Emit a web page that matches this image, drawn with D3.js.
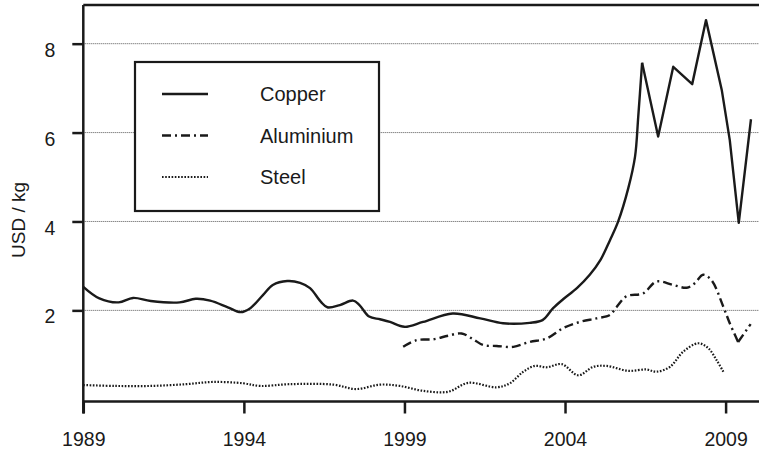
<!DOCTYPE html>
<html>
<head>
<meta charset="utf-8">
<script src="https://cdn.jsdelivr.net/npm/d3@7"></script>
<style>
  body { margin: 0; background: #fff; }
  svg { display: block; font-family: "Liberation Sans", Arial, sans-serif; }
</style>
</head>
<body>
<div id="plot"></div>
<script>
    // metal prices, USD / kg
    const seriesNames = ["Copper", "Aluminium", "Steel"];

    const copperYears = [1989.0, 1989.5, 1990.1, 1990.55, 1991.1, 1992.0, 1992.5, 1992.95, 1993.5, 1993.9,
      1994.2, 1994.6, 1994.9, 1995.35, 1995.75, 1996.06, 1996.4, 1996.6, 1996.99, 1997.4,
      1997.6, 1997.9, 1998.24, 1998.55, 1999.0, 1999.58, 2000.5, 2001.36, 2002.07, 2002.9,
      2003.3, 2003.63, 2003.94, 2004.37, 2004.77, 2005.1, 2005.4, 2005.65, 2005.97, 2006.18,
      2006.28, 2006.40, 2006.9, 2007.37, 2007.96, 2008.39, 2008.88, 2009.13, 2009.41, 2009.79];
    const copperValues = [2.53, 2.27, 2.18, 2.28, 2.21, 2.18, 2.26, 2.22, 2.07, 1.96,
      2.05, 2.35, 2.57, 2.66, 2.62, 2.50, 2.19, 2.07, 2.12, 2.22,
      2.12, 1.86, 1.80, 1.74, 1.63, 1.74, 1.93, 1.82, 1.71, 1.72,
      1.78, 2.05, 2.25, 2.50, 2.80, 3.13, 3.58, 3.99, 4.75, 5.46,
      6.36, 7.57, 5.91, 7.48, 7.09, 8.53, 6.96, 5.83, 3.97, 6.30];

    const aluminiumYears = [1998.96, 1999.38, 1999.9, 2000.36, 2000.78, 2001.14, 2001.45, 2001.87, 2002.39, 2002.9,
      2003.43, 2003.94, 2004.46, 2004.98, 2005.4, 2005.6, 2005.92, 2006.43, 2006.85, 2007.37,
      2007.79, 2008.04, 2008.3, 2008.56, 2008.93, 2009.13, 2009.39, 2009.78];
    const aluminiumValues = [1.18, 1.33, 1.35, 1.43, 1.48, 1.35, 1.22, 1.20, 1.18, 1.29,
      1.37, 1.60, 1.74, 1.82, 1.90, 2.07, 2.32, 2.38, 2.65, 2.57,
      2.51, 2.61, 2.80, 2.68, 2.08, 1.71, 1.29, 1.69];

    const steelYears = [1989.0, 1990.0, 1991.1, 1992.2, 1993.05, 1993.98, 1994.5, 1995.43, 1996.78, 1997.5,
      1998.24, 1998.86, 1999.58, 2000.36, 2000.99, 2001.87, 2002.28, 2002.7, 2003.06, 2003.43,
      2003.9, 2004.41, 2004.88, 2005.3, 2005.97, 2006.54, 2006.85, 2007.27, 2007.68, 2008.15,
      2008.46, 2008.72, 2008.93];
    const steelValues = [0.32, 0.30, 0.30, 0.34, 0.39, 0.36, 0.30, 0.34, 0.33, 0.23,
      0.33, 0.30, 0.19, 0.17, 0.37, 0.27, 0.36, 0.62, 0.75, 0.72,
      0.79, 0.54, 0.73, 0.75, 0.64, 0.67, 0.62, 0.73, 1.07, 1.26,
      1.15, 0.88, 0.62];

    // from this year on the series is drawn with straight segments
    const sharpFrom = [2006.40, 2009.39, Infinity];

    const xTicks = [1989, 1994, 1999, 2004, 2009];
    const yTicks = [2, 4, 6, 8];

    const width = 759, height = 453;
    const ink = "#1a1a1a";
    const dashes = ["none", "9,4,2,4", "1.6,1.6"];
    const widths = [2.4, 2.4, 2.2];

    const svg = d3.select("div#plot")
      .append("svg")
        .attr("width", width)
        .attr("height", height);

    const xScale = d3.scaleLinear()
      .domain([1989, 2010.04])
      .range([83.3, 759]);

    const yScale = d3.scaleLinear()
      .domain([-0.05, 8.87])
      .range([401.5, 5]);

    // grid
    svg.append("g")
      .selectAll("line")
      .data(yTicks)
      .enter()
      .append("line")
        .attr("x1", xScale(1989))
        .attr("x2", width)
        .attr("y1", d => yScale(d))
        .attr("y2", d => yScale(d))
        .attr("stroke", "#555")
        .attr("stroke-width", 1)
        .attr("stroke-dasharray", "1,1");

    // top border
    svg.append("line")
      .attr("x1", xScale(1989))
      .attr("x2", width)
      .attr("y1", yScale(8.87))
      .attr("y2", yScale(8.87))
      .attr("stroke", ink)
      .attr("stroke-width", 2.5);

    const xAxis = d3.axisBottom(xScale)
      .tickValues(xTicks)
      .tickFormat(d3.format("d"))
      .tickSize(12)
      .tickPadding(19);

    const gx = svg.append("g")
      .attr("transform", `translate(0, ${yScale(-0.05)})`)
      .call(xAxis);
    gx.select(".domain")
      .attr("d", `M${xScale(1989)},0H${width}`)
      .attr("stroke", ink)
      .attr("stroke-width", 2.5);
    gx.selectAll(".tick line").attr("stroke", ink).attr("stroke-width", 2.5);
    gx.selectAll("text")
      .attr("fill", ink)
      .style("font-size", "19.5px")
      .style("font-family", "Liberation Sans, Arial, sans-serif");

    const yAxis = d3.axisLeft(yScale)
      .tickValues(yTicks)
      .tickSize(11)
      .tickPadding(17);

    const gy = svg.append("g")
      .attr("transform", `translate(${xScale(1989)}, 0)`)
      .call(yAxis);
    gy.select(".domain")
      .attr("d", `M0,${yScale(8.87)}V${yScale(-0.05) + 12}`)
      .attr("stroke", ink)
      .attr("stroke-width", 2.5);
    gy.selectAll(".tick line").attr("stroke", ink).attr("stroke-width", 2.5);
    gy.selectAll("text")
      .attr("fill", ink)
      .attr("dy", "0.95em")
      .attr("y", -6)
      .style("font-size", "19.5px")
      .style("font-family", "Liberation Sans, Arial, sans-serif");

    svg.append("text")
      .attr("transform", "rotate(-90)")
      .attr("x", -220)
      .attr("y", 25)
      .attr("fill", ink)
      .style("text-anchor", "middle")
      .style("font-size", "19px")
      .text("USD / kg");

    // series
    const allYears = [copperYears, aluminiumYears, steelYears];
    const allValues = [copperValues, aluminiumValues, steelValues];

    const smoothLine = d3.line()
      .x(d => xScale(d[0]))
      .y(d => yScale(d[1]))
      .curve(d3.curveCatmullRom.alpha(0.5));

    const straightLine = d3.line()
      .x(d => xScale(d[0]))
      .y(d => yScale(d[1]));

    seriesNames.forEach((name, i) => {
      const pts = allYears[i].map((yr, j) => [yr, allValues[i][j]]);
      const smooth = pts.filter(d => d[0] <= sharpFrom[i]);
      const sharp = pts.filter(d => d[0] >= sharpFrom[i]);
      [[smooth, smoothLine], [sharp, straightLine]].forEach(([part, gen]) => {
        if (part.length < 2) return;
        svg.append("path")
          .datum(part)
          .attr("d", gen)
          .attr("fill", "none")
          .attr("stroke", ink)
          .attr("stroke-width", widths[i])
          .attr("stroke-dasharray", dashes[i])
          .attr("stroke-linejoin", "round");
      });
    });

    // legend
    const key = svg.append("g")
      .attr("transform", "translate(135, 62)");

    key.append("rect")
      .attr("x", 0)
      .attr("y", 0)
      .attr("width", 244)
      .attr("height", 149)
      .attr("fill", "#fff")
      .attr("stroke", ink)
      .attr("stroke-width", 2.2);

    seriesNames.forEach((name, i) => {
      key.append("line")
        .attr("x1", 27)
        .attr("x2", 73)
        .attr("y1", 32 + i * 41.5)
        .attr("y2", 32 + i * 41.5)
        .attr("stroke", ink)
        .attr("stroke-width", widths[i])
        .attr("stroke-dasharray", dashes[i]);

      key.append("text")
        .attr("x", 125)
        .attr("y", 39 + i * 41.5)
        .attr("fill", ink)
        .style("font-size", "20px")
        .text(name);
    });
</script>
</body>
</html>
